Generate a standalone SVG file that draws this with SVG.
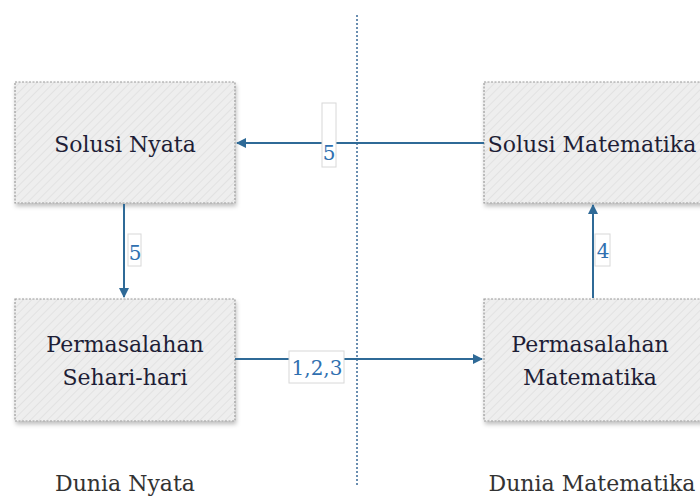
<svg xmlns="http://www.w3.org/2000/svg" width="700" height="497" viewBox="0 0 700 497">
<style>
.box{fill:url(#hatch);stroke:#9a9a9a;stroke-width:1.2;stroke-dasharray:2 1.5;filter:url(#sh)}
.t{font-family:"DejaVu Serif","Liberation Serif",serif;font-size:22px;fill:#1e1e36;text-anchor:middle}
.bt{font-family:"DejaVu Serif","Liberation Serif",serif;font-size:22px;fill:#333;text-anchor:middle}
.c{stroke:#2f6a97;stroke-width:2;fill:none;marker-end:url(#ah)}
.lb{fill:#fff;stroke:#d8d8d8;stroke-width:1}
.lt{font-family:"DejaVu Serif","Liberation Serif",serif;font-size:20px;fill:#3070b0;text-anchor:middle}
</style>
<defs>
<pattern id="hatch" patternUnits="userSpaceOnUse" width="6" height="6" patternTransform="rotate(45)">
<rect width="6" height="6" fill="#eeeeee"/>
<line x1="0" y1="0" x2="0" y2="6" stroke="#e2e2e2" stroke-width="2"/>
</pattern>
<filter id="sh" x="-10%" y="-10%" width="125%" height="130%">
<feDropShadow dx="1" dy="3" stdDeviation="2" flood-color="#000" flood-opacity="0.25"/>
</filter>
<marker id="ah" markerWidth="10" markerHeight="10" refX="9" refY="5" orient="auto" markerUnits="userSpaceOnUse" viewBox="0 0 10 10">
<path d="M0,0 L10,5 L0,10 z" fill="#2f6a97"/>
</marker>
</defs>
<line x1="357" y1="15" x2="357" y2="486" stroke="#3a6a96" stroke-width="1.5" stroke-dasharray="2 2"/>
<g id="n1"><rect class="box" x="15" y="82" width="220" height="121"/><text class="t" x="125" y="152">Solusi Nyata</text></g>
<g id="n2"><rect class="box" x="15" y="299" width="220" height="122"/><text class="t" x="125" y="352">Permasalahan</text><text class="t" x="125" y="385">Sehari-hari</text></g>
<g id="n3"><rect class="box" x="484" y="82" width="220" height="121"/><text class="t" x="592" y="152">Solusi Matematika</text></g>
<g id="n4"><rect class="box" x="484" y="299" width="220" height="122"/><text class="t" x="590" y="352">Permasalahan</text><text class="t" x="590" y="385">Matematika</text></g>
<g id="connectors">
<line class="c" x1="484" y1="143" x2="237" y2="143"/>
<rect class="lb" x="322" y="103" width="14" height="64"/><text class="lt" x="329" y="160">5</text>
<line class="c" x1="124" y1="204" x2="124" y2="297"/>
<rect class="lb" x="128" y="234" width="13" height="32"/><text class="lt" x="135" y="260">5</text>
<line class="c" x1="235" y1="359" x2="482" y2="359"/>
<rect class="lb" x="289" y="351" width="55" height="32"/><text class="lt" x="317" y="375">1,2,3</text>
<line class="c" x1="593" y1="298" x2="593" y2="205"/>
<rect class="lb" x="595" y="234" width="15" height="32"/><text class="lt" x="603" y="258">4</text>
</g>
<text class="bt" x="125" y="491">Dunia Nyata</text>
<text class="bt" x="592" y="491">Dunia Matematika</text>
</svg>
